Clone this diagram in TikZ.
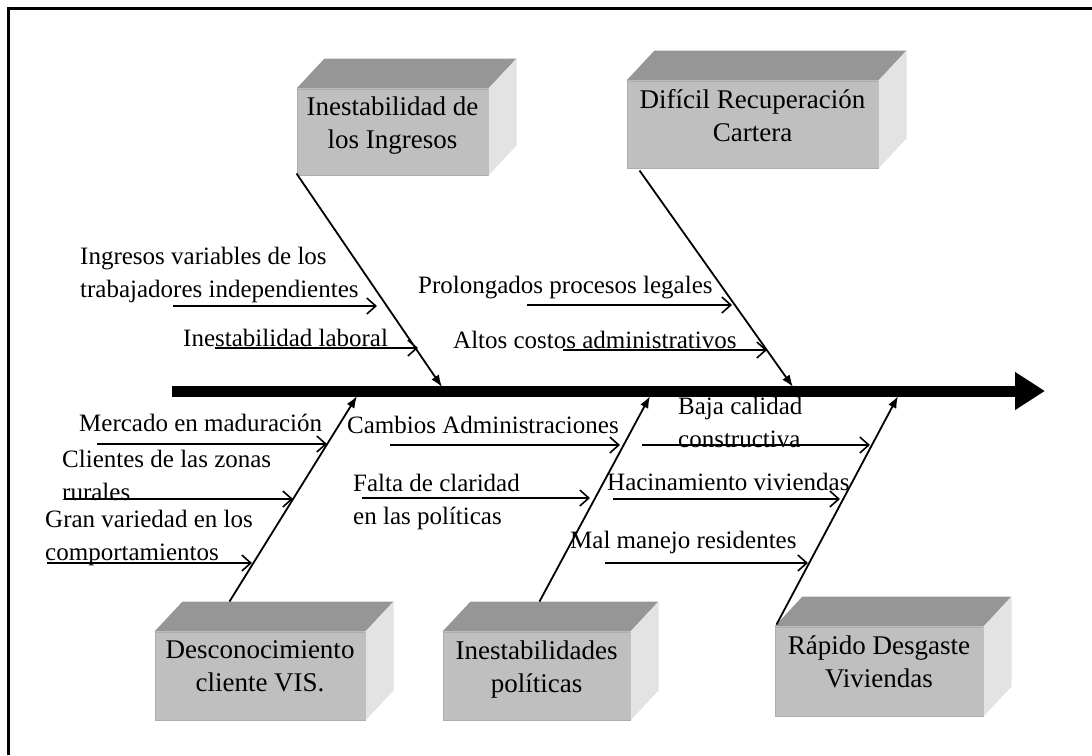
\documentclass[tikz,border=0pt]{standalone}
\usepackage{fontspec}
\setmainfont{Liberation Serif}
\usetikzlibrary{arrows.meta}
\tikzset{
  cube/.style={fill=black!25, draw=black!32, line width=1pt, inner sep=0pt, align=center, text depth=19pt, font=\fontsize{27}{33}\selectfont},
  cubetop/.style={fill=black!41},
  cubeside/.style={fill=black!11},
  cause/.style={anchor=west, inner sep=0pt, align=left, font=\fontsize{25}{33}\selectfont},
  spine/.style={line width=11pt, -{Triangle[length=30pt,width=36pt]}},
  branch/.style={line width=1.8pt, -{Latex[length=12pt,width=9pt]}},
  sub/.style={line width=1.6pt, -{Straight Barb[length=9pt,width=16pt]}},
}
\begin{document}
\begin{tikzpicture}[x=1pt,y=-1pt]
%\draw[step=50,gray,very thin] (0,0) grid (1092,755);
\useasboundingbox (0,0) rectangle (1092,755);
\draw[line width=3pt] (8.5,755) -- (8.5,8.5) -- (1092,8.5);
% effect boxes
\node[cube, minimum width=191, minimum height=86] (b1) at (392.5,132) {Inestabilidad de\\los Ingresos};
\node[cube, minimum width=251, minimum height=87] (b2) at (752.5,124.5) {Difícil Recuperación\\Cartera};
\node[cube, minimum width=210, minimum height=88] (b3) at (260,676) {Desconocimiento\\cliente VIS.};
\node[cube, minimum width=187, minimum height=88] (b4) at (536.5,676) {Inestabilidades\\políticas};
\node[cube, minimum width=208, minimum height=89] (b5) at (879,671.5) {Rápido Desgaste\\Viviendas};
\fill[cubetop] (b1.north west) -- ++(28,-30) -- ([shift={(28,-30)}]b1.north east) -- (b1.north east) -- cycle;
\fill[cubeside] (b1.north east) -- ++(28,-30) -- ([shift={(28,-30)}]b1.south east) -- (b1.south east) -- cycle;
\fill[cubetop] (b2.north west) -- ++(28,-30) -- ([shift={(28,-30)}]b2.north east) -- (b2.north east) -- cycle;
\fill[cubeside] (b2.north east) -- ++(28,-30) -- ([shift={(28,-30)}]b2.south east) -- (b2.south east) -- cycle;
\fill[cubetop] (b3.north west) -- ++(28,-30) -- ([shift={(28,-30)}]b3.north east) -- (b3.north east) -- cycle;
\fill[cubeside] (b3.north east) -- ++(28,-30) -- ([shift={(28,-30)}]b3.south east) -- (b3.south east) -- cycle;
\fill[cubetop] (b4.north west) -- ++(28,-30) -- ([shift={(28,-30)}]b4.north east) -- (b4.north east) -- cycle;
\fill[cubeside] (b4.north east) -- ++(28,-30) -- ([shift={(28,-30)}]b4.south east) -- (b4.south east) -- cycle;
\fill[cubetop] (b5.north west) -- ++(28,-30) -- ([shift={(28,-30)}]b5.north east) -- (b5.north east) -- cycle;
\fill[cubeside] (b5.north east) -- ++(28,-30) -- ([shift={(28,-30)}]b5.south east) -- (b5.south east) -- cycle;
% spine
\coordinate (sp0) at (172,391);
\coordinate (sp1) at (1045,391);
\draw[spine] (sp0) -- (sp1);
% branches
\coordinate (s1) at (442,387);
\coordinate (s2) at (793,387);
\coordinate (s3) at (357,396);
\coordinate (s4) at (650,396);
\coordinate (s5) at (898,396);
\draw[branch] ([yshift=2]b1.south west) -- (s1);
\draw[branch] ([shift={(13,2)}]b2.south west) -- (s2);
\draw[branch] ([shift={(75,-30)}]b3.north west) -- (s3);
\draw[branch] ([shift={(97,-30)}]b4.north west) -- (s4);
\draw[branch] ([shift={(2,-2)}]b5.north west) -- (s5);
% causes
\node[cause] (l1) at (80,275) {Ingresos variables de los\\trabajadores independientes};
\node[cause] (l2) at (183,338) {Inestabilidad laboral};
\node[cause] (r1) at (418,288) {Prolongados procesos legales};
\node[cause] (r2) at (453,340) {Altos costos administrativos};
\node[cause] (m1) at (79,423) {Mercado en maduración};
\node[cause] (m2) at (62,475) {Clientes de las zonas\\rurales};
\node[cause] (m3) at (45,538) {Gran variedad en los\\comportamientos};
\node[cause] (p1) at (347,425) {Cambios Administraciones};
\node[cause] (p2) at (353,502) {Falta de claridad\\en las políticas};
\node[cause] (v1) at (678,422) {Baja calidad\\constructiva};
\node[cause] (v2) at (607,482) {Hacinamiento viviendas};
\node[cause] (v3) at (570,542) {Mal manejo residentes};
% cause arrows
\coordinate (l1a) at (173,306); \coordinate (l1b) at (377,306); \draw[sub] (l1a) -- (l1b);
\coordinate (l2a) at (215,348); \coordinate (l2b) at (418,348); \draw[sub] (l2a) -- (l2b);
\coordinate (r1a) at (527,305); \coordinate (r1b) at (732,305); \draw[sub] (r1a) -- (r1b);
\coordinate (r2a) at (563,350); \coordinate (r2b) at (767,350); \draw[sub] (r2a) -- (r2b);
\coordinate (m1a) at (97,444); \coordinate (m1b) at (327,444); \draw[sub] (m1a) -- (m1b);
\coordinate (m2a) at (66,499); \coordinate (m2b) at (293,499); \draw[sub] (m2a) -- (m2b);
\coordinate (m3a) at (47,563); \coordinate (m3b) at (252,563); \draw[sub] (m3a) -- (m3b);
\coordinate (p1a) at (390,445); \coordinate (p1b) at (620,445); \draw[sub] (p1a) -- (p1b);
\coordinate (p2a) at (362,498); \coordinate (p2b) at (590,498); \draw[sub] (p2a) -- (p2b);
\coordinate (v1a) at (642,445); \coordinate (v1b) at (870,445); \draw[sub] (v1a) -- (v1b);
\coordinate (v2a) at (613,499); \coordinate (v2b) at (840,499); \draw[sub] (v2a) -- (v2b);
\coordinate (v3a) at (605,563); \coordinate (v3b) at (808,563); \draw[sub] (v3a) -- (v3b);
\end{tikzpicture}
\end{document}
